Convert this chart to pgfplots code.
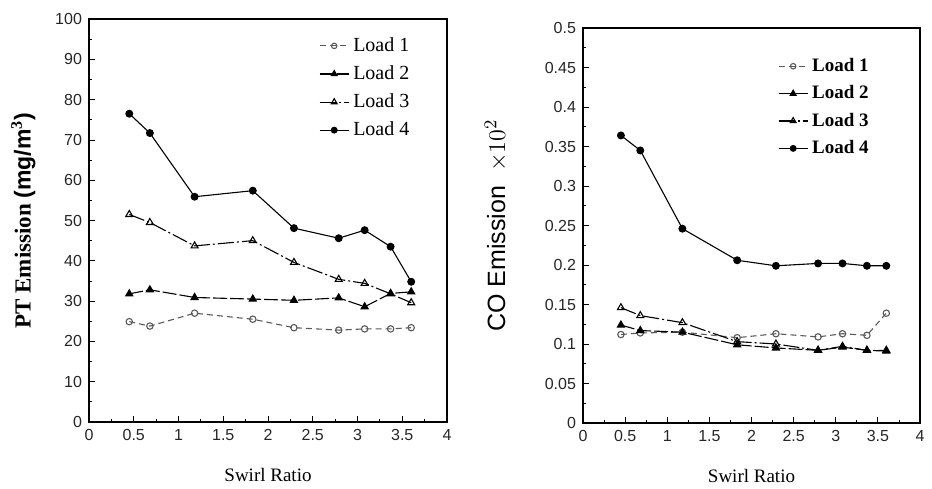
\documentclass[border=0pt]{standalone}
\usepackage{fontspec}
\setmainfont{Liberation Serif}
\setsansfont{Liberation Sans}
\usepackage{pgfplots}
\pgfplotsset{compat=1.18}
\pgfplotsset{
  common/.style={
    scale only axis,
    anchor=south west,
    xmin=0, xmax=4,
    xtick={0,0.5,...,4},
    /pgf/number format/assume math mode=true,
    tick label style={font=\sffamily\fontsize{8}{9}\selectfont, text=black!85},
    axis line style={line width=0.6pt},
    tick style={black, line width=0.4pt},
    major tick length=3pt,
    minor tick length=1.5pt,
    minor x tick num=1,
    minor y tick num=1,
    xtick pos=left, ytick pos=left,
    xlabel style={font=\rmfamily\fontsize{9.5}{11}\selectfont, yshift=-7pt},
    legend cell align=left,
    legend style={draw=none, fill=none, row sep=1.6pt},
    legend image post style={scale=0.85},
    every axis plot/.append style={line width=0.55pt},
  },
  l1/.style={black!65, densely dashed, mark=o, mark size=1.6pt, mark options={solid, fill=white}},
  l2/.style={black, dash pattern=on 7pt off 1.5pt, mark=triangle*, mark size=2pt, mark options={solid}},
  l3/.style={black, dash pattern=on 8pt off 1.5pt on 1pt off 1.5pt, mark=triangle, mark size=2pt, mark options={solid, fill=white}},
  l4/.style={black, solid, mark=*, mark size=1.7pt},
}
\begin{document}
\begin{tikzpicture}
\useasboundingbox (0,0) rectangle (466pt,244pt);
\begin{axis}[common,
  at={(44.5pt,33pt)}, width=179pt, height=201.5pt,
  ymin=0, ymax=100, ytick={0,10,...,100},
  xlabel={Swirl Ratio},
  ylabel={\textbf{PT Emission }{\sffamily\bfseries (mg/m$^{\mathbf{3}}$)}},
  ylabel style={font=\fontsize{11.5}{13}\selectfont, yshift=3pt},
  legend style={at={(0.625,0.975)}, anchor=north west, font=\rmfamily\fontsize{10}{11}\selectfont},
]
\addplot[l1] coordinates {(0.45,24.9) (0.68,23.8) (1.18,27.0) (1.83,25.5) (2.29,23.4) (2.79,22.8) (3.08,23.1) (3.37,23.1) (3.60,23.4)};
\addlegendentry{Load 1}
\addplot[l2] coordinates {(0.45,31.8) (0.68,32.8) (1.18,30.9) (1.83,30.5) (2.29,30.2) (2.79,30.8) (3.08,28.6) (3.37,31.9) (3.60,32.3)};
\addlegendentry{Load 2}
\addplot[l3] coordinates {(0.45,51.5) (0.68,49.5) (1.18,43.7) (1.83,45.0) (2.29,39.6) (2.79,35.4) (3.08,34.4) (3.37,31.8) (3.60,29.6)};
\addlegendentry{Load 3}
\addplot[l4] coordinates {(0.45,76.5) (0.68,71.7) (1.18,55.9) (1.83,57.4) (2.29,48.1) (2.79,45.6) (3.08,47.6) (3.37,43.5) (3.60,34.8)};
\addlegendentry{Load 4}
\end{axis}
\begin{axis}[common,
  at={(291.5pt,32.5pt)}, width=168.5pt, height=197.5pt,
  ymin=0, ymax=0.5, ytick={0,0.05,...,0.5},
  yticklabel style={/pgf/number format/fixed, /pgf/number format/precision=2},
  xlabel={Swirl Ratio},
  ylabel={CO Emission \ $\times10^{2}$},
  ylabel style={font=\sffamily\fontsize{12.5}{14}\selectfont, yshift=12pt},
  legend style={at={(0.56,0.945)}, anchor=north west, font=\rmfamily\bfseries\fontsize{9.5}{11}\selectfont},
]
\addplot[l1] coordinates {(0.45,0.112) (0.68,0.114) (1.18,0.115) (1.83,0.108) (2.29,0.113) (2.79,0.109) (3.08,0.113) (3.37,0.111) (3.60,0.139)};
\addlegendentry{Load 1}
\addplot[l2] coordinates {(0.45,0.124) (0.68,0.117) (1.18,0.115) (1.83,0.099) (2.29,0.095) (2.79,0.092) (3.08,0.096) (3.37,0.092) (3.60,0.091)};
\addlegendentry{Load 2}
\addplot[l3] coordinates {(0.45,0.146) (0.68,0.136) (1.18,0.127) (1.83,0.103) (2.29,0.100) (2.79,0.092) (3.08,0.097) (3.37,0.092) (3.60,0.092)};
\addlegendentry{Load 3}
\addplot[l4] coordinates {(0.45,0.364) (0.68,0.345) (1.18,0.246) (1.83,0.206) (2.29,0.199) (2.79,0.202) (3.08,0.202) (3.37,0.199) (3.60,0.199)};
\addlegendentry{Load 4}
\end{axis}
\end{tikzpicture}
\end{document}
